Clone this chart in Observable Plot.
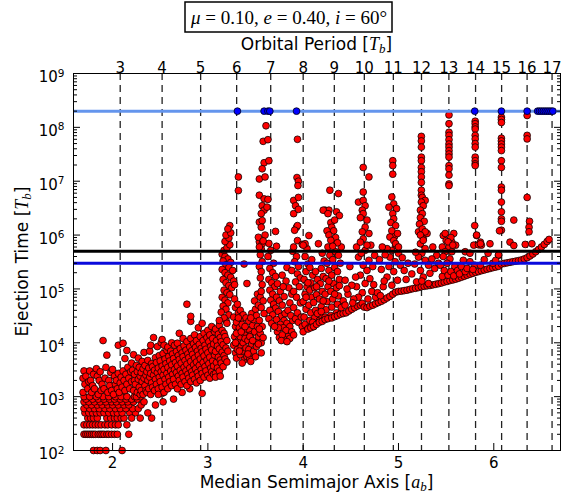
<!DOCTYPE html>
<html>
<head>
<meta charset="utf-8">
<script src="https://cdn.jsdelivr.net/npm/d3@7"></script>
<script src="https://cdn.jsdelivr.net/npm/@observablehq/plot@0.6"></script>
<style>
  html, body { margin: 0; padding: 0; background: #fff; }
  #chart svg { display: block; }
</style>
</head>
<body>
<div id="chart"></div>
<script>
// ---------- axis ticks and reference levels ----------
const periodTicks = [3,4,5,6,7,8,9,10,11,12,13,14,15,16,17];
const axisTicks = [2,3,4,5,6];
const decadeTicks = [1e2,1e3,1e4,1e5,1e6,1e7,1e8,1e9];
const survivalTime = 2e8;
const blackLevel = 5e5;
const blueLevel = 3e5;

// ---------- surviving planets (plotted at the survival time) ----------
const survivorA = [3.31,3.59,3.63,3.65,3.93,5.80,6.08,6.35,6.46,6.48,6.50,6.52,6.54,6.56,6.58,6.60,6.62];

// ---------- ejected planets: [median semimajor axis, ejection time] ----------
const lowRows = [
[1.80,100],[1.84,100],[1.87,100],[1.93,100],[2.10,100],
[1.70,200],[1.72,200],[1.74,200],[1.76,200],[1.78,200],[1.80,200],[1.82,200],[1.85,200],[1.87,200],[1.89,200],[1.91,200],[1.94,200],[1.96,200],[1.99,200],[2.02,200],[2.05,200],[2.17,200],
[1.70,300],[1.73,300],[1.76,300],[1.79,300],[1.82,300],[1.85,300],[1.88,300],[1.92,300],[1.95,300],[1.99,300],[2.03,300],[2.06,300],[2.15,300],
[1.74,400],[1.77,400],[1.80,400],[1.84,400],[1.94,400],[1.98,400],[2.02,400],[2.05,400],[2.09,400],[2.12,400],
[1.71,500],[1.75,500],[1.79,500],[1.83,500],[1.87,500],[1.91,500],[1.96,500],[2.01,500],[2.05,500],[2.10,500],[2.18,500],[2.24,500],
[1.70,600],[1.76,600],[1.81,600],[1.86,600],[1.92,600],[1.97,600],[2.03,600],[2.08,600],[2.14,600],[2.21,600],[2.27,600],
[1.73,700],[1.78,700],[1.84,700],[1.89,700],[1.95,700],[2.00,700],[2.06,700],[2.12,700],[2.17,700],[2.30,700],
[1.70,800],[1.75,800],[1.81,800],[1.87,800],[1.93,800],[1.99,800],[2.04,800],[2.10,800],[2.16,800],[2.22,800],[2.33,800],
[1.72,900],[1.79,900],[1.85,900],[1.91,900],[1.97,900],[2.02,900],[2.08,900],[2.14,900],[2.20,900],[2.26,900],
[1.70,1000],[1.76,1000],[1.83,1000],[1.90,1000],[1.96,1000],[2.03,1000],[2.09,1000],[2.15,1000],[2.23,1000],[2.29,1000]
];

const innerCloud = [
[1.69,1200],[1.69,2200],[1.70,3000],[1.71,1700],[1.72,2400],[1.74,1400],[1.75,1900],[1.76,3000],[1.77,2000],[1.78,1200],[1.79,1600],[1.80,2600],[1.81,1400],[1.83,3300],[1.84,2400],[1.85,1100],[1.86,2000],[1.87,2900],[1.88,1300],[1.89,1700],[1.90,11000],[1.91,1400],[1.92,2200],[1.93,3500],[1.94,5900],[1.95,1200],[1.96,2000],[1.97,1600],[1.98,2800],[1.99,1300],[2.00,3200],[2.01,1100],[2.02,2400],[2.03,1700],[2.04,2000],[2.05,1400],[2.06,9000],[2.06,2700],[2.07,1200],[2.08,1800],[2.09,2300],[2.10,1500],[2.11,9800],[2.11,3000],[2.12,2000],[2.13,5100],[2.13,1300],[2.14,2600],[2.15,7200],[2.15,1700],[2.16,3500],[2.17,2200],[2.18,1400],[2.19,2900],[2.20,1900],[2.20,4200],
[2.20,400],[2.29,400],[2.41,400],[2.37,500],[2.45,700],[2.53,800],[2.64,900],[2.52,1150],[2.81,1400],[2.94,1150],[2.73,1200],
[2.22,1300],[2.23,2000],[2.21,3100],[2.22,6000],
[2.25,1000],[2.24,1700],[2.23,2600],[2.25,3800],
[2.26,1200],[2.27,2100],[2.26,2900],[2.27,5200],
[2.28,1500],[2.29,2400],[2.28,3500],[2.29,1100],
[2.30,1300],[2.31,1900],[2.30,2800],[2.31,4500],
[2.32,1100],[2.33,2200],[2.32,3300],[2.33,6600],
[2.34,1600],[2.35,2500],[2.34,3800],[2.35,1300],
[2.36,1200],[2.37,2000],[2.36,2900],[2.37,4700],
[2.38,1400],[2.39,2300],[2.38,3400],[2.39,7000],
[2.40,1100],[2.41,1800],[2.40,2700],[2.41,4100],[2.40,9000],
[2.42,1500],[2.43,2500],[2.42,3600],[2.43,12500],
[2.44,1300],[2.45,2100],[2.44,3100],[2.45,5300],
[2.46,1700],[2.47,2800],[2.46,4300],[2.47,8500],
[2.48,1400],[2.49,2300],[2.48,3400],[2.49,5800],[2.48,1100],
[2.50,1900],[2.51,2900],[2.50,4600],[2.51,10000],
[2.52,1500],[2.53,2500],[2.52,3700],[2.53,6300],[2.52,11500],
[2.54,1200],[2.55,2100],[2.54,3200],[2.55,5000],[2.54,9000],
[2.56,1700],[2.57,2700],[2.56,4100],[2.57,7200],
[2.58,1400],[2.59,2300],[2.58,3500],[2.59,5600],[2.58,8300],
[2.60,1900],[2.61,3000],[2.60,4600],[2.61,7000],
[2.62,1600],[2.63,2600],[2.62,3900],[2.63,6200],[2.62,10000],
[2.64,2100],[2.65,3200],[2.64,5100],[2.65,9000],
[2.66,1700],[2.67,2800],[2.66,4300],[2.67,6900],
[2.68,1400],[2.69,2400],[2.68,3700],[2.69,5800],[2.68,9800],
[2.70,2000],[2.71,3100],[2.70,4900],[2.71,7800],[2.70,15000],
[2.72,1700],[2.73,2700],[2.72,4200],[2.73,6500],
[2.74,2300],[2.75,3500],[2.74,5500],[2.75,8800],[2.74,12000],
[2.76,1900],[2.77,3000],[2.76,4700],[2.77,7300],
[2.78,1600],[2.79,2600],[2.78,4000],[2.79,6200],[2.78,10500],[2.78,52000],
[2.80,2200],[2.81,3400],[2.80,5300],[2.81,8400],[2.82,25000],
[2.82,1900],[2.83,2900],[2.82,4500],[2.83,7100],[2.82,12000],[2.82,31000],
[2.84,2500],[2.85,3900],[2.84,6100],[2.85,9600],
[2.86,2100],[2.87,3300],[2.86,5200],[2.87,8200],[2.86,14000],
[2.88,1800],[2.89,2800],[2.88,4400],[2.89,7000],[2.88,11000],
[2.90,2400],[2.91,3800],[2.90,5900],[2.91,9400],[2.90,19000],
[2.92,2000],[2.93,3200],[2.92,5000],[2.93,7900],[2.92,13000],
[2.94,2700],[2.95,4300],[2.94,6800],[2.95,11000],[2.94,23000],
[2.96,2300],[2.97,3600],[2.96,5700],[2.97,9000],[2.96,15000],
[2.98,3000],[2.99,4800],[2.98,7600],[2.99,12500],
[3.00,2500],[3.01,4100],[3.00,6500],[3.01,10500],[3.00,17000],
[3.02,2200],[3.03,3400],[3.02,5400],[3.03,8600],[3.02,14000],
[3.04,2900],[3.05,4600],[3.04,7400],[3.05,12000],[3.04,20000],
[3.06,3700],[3.07,5900],[3.06,9500],[3.07,16000],[3.06,2600],
[3.08,2700],[3.09,4300],[3.08,6900],[3.09,11000],[3.08,18000],[3.08,2300],
[3.10,3400],[3.11,5400],[3.10,8700],[3.11,14500],
[3.12,3000],[3.13,4800],[3.12,7700],[3.13,12500],[3.12,21000],[3.13,2400],
[3.14,4200],[3.15,6700],[3.14,10500],[3.15,17000],
[3.16,3600],[3.17,5800],[3.16,9200],[3.17,15000],
[3.18,5000],[3.19,8000],[3.18,13000],[3.19,26000],
[3.20,4400],[3.21,7000],[3.20,11000]
];

const midCloud = [
[3.15,4.4e5],[3.18,4.0e5],[3.21,3.6e5],[3.16,3.3e5],[3.24,3.1e5],[3.19,2.8e5],[3.22,2.5e5],[3.15,2.3e5],[3.26,2.2e5],[3.18,2.0e5],[3.21,1.8e5],[3.24,1.65e5],[3.16,1.5e5],[3.27,1.4e5],[3.19,1.3e5],[3.22,1.15e5],[3.25,1.05e5],[3.17,9.5e4],[3.20,8.5e4],[3.28,1.2e5],[3.23,7.8e4],[3.15,7.0e4],[3.18,6.2e4],[3.21,5.5e4],[3.16,4.8e4],[3.19,4.2e4],[3.14,3.7e4],[3.22,3.3e4],[3.17,2.9e4],[3.12,2.6e4],[3.20,2.3e4],[3.17,5.2e5],[3.20,5.8e5],[3.23,6.6e5],[3.18,7.6e5],[3.22,8.8e5],[3.19,1.0e6],[3.24,1.1e6],[3.23,1.5e6],[3.21,1.3e6],
[3.28,6.5e4],[3.29,4.5e4],[3.27,3.0e4],[3.29,2.0e4],[3.28,1.3e4],[3.27,9.0e3],[3.29,6.5e3],
[3.31,5.2e4],[3.32,3.6e4],[3.30,2.4e4],[3.31,1.6e4],[3.32,1.1e4],[3.31,7.5e3],[3.30,5.2e3],
[3.34,4.0e4],[3.35,2.8e4],[3.33,1.9e4],[3.34,1.3e4],[3.35,8.5e3],[3.34,6.0e3],
[3.37,3.3e4],[3.36,2.2e4],[3.38,1.5e4],[3.37,1.0e4],[3.36,7.0e3],[3.38,4.8e3],
[3.41,1.26e5],[3.38,2.9e5],[3.40,2.9e4],[3.41,1.8e4],[3.39,1.2e4],[3.40,8.0e3],[3.41,5.5e3],
[3.43,2.5e4],[3.44,1.7e4],[3.42,1.1e4],[3.43,7.5e3],[3.44,5.0e3],
[3.46,3.5e4],[3.47,2.1e4],[3.45,1.4e4],[3.46,9.5e3],[3.47,6.5e3],[3.45,4.5e3],
[3.49,6.0e4],[3.50,4.2e4],[3.48,2.7e4],[3.49,1.6e4],[3.50,1.05e4],[3.48,7.0e3],
[3.52,8.0e4],[3.53,5.0e4],[3.51,3.2e4],[3.52,2.0e4],[3.53,1.3e4],[3.51,8.5e3],
[3.55,7.0e4],[3.56,4.5e4],[3.54,2.6e4],[3.55,1.5e4],[3.56,1.0e4],
[3.58,6.0e4],[3.59,3.5e4],[3.57,2.0e4],[3.58,1.25e4],
[3.29,1.0e4],[3.30,1.5e4],[3.33,7.0e3],[3.35,1.6e4],[3.36,4.2e3],[3.39,2.0e4],[3.42,6.2e3],[3.44,1.3e4],[3.47,1.1e4],[3.50,5.5e3],[3.53,9.5e3],[3.56,6.5e3],[3.54,1.8e4],[3.32,2.9e4],[3.45,2.9e4],
[3.54,7.5e5],[3.56,5.5e5],[3.55,4.3e5],[3.57,3.2e5],[3.54,2.6e5],[3.56,2.1e5],[3.55,1.6e5],[3.57,1.2e5],[3.56,9.0e4],
[3.64,7.0e5],[3.66,5.2e5],[3.63,4.0e5],[3.69,3.0e5],[3.65,2.4e5],[3.68,2.0e5],[3.71,1.7e5],[3.64,1.5e5],[3.67,1.3e5],[3.70,1.1e5],[3.73,1.25e5],[3.65,9.5e4],[3.68,8.0e4],[3.72,7.0e4],[3.66,6.2e4],[3.69,5.2e4],[3.75,6.0e4],[3.71,4.4e4],[3.65,4.0e4],[3.68,3.3e4],[3.74,3.8e4],[3.64,2.8e4],[3.67,2.3e4],
[3.77,3.1e4],[3.72,2.7e4],[3.80,2.6e4],[3.76,2.2e4],[3.83,2.3e4],[3.79,1.9e4],[3.86,2.0e4],[3.73,1.6e4],[3.82,1.7e4],[3.75,1.25e4],[3.88,1.6e4],[3.84,1.3e4],[3.80,1.15e4],[3.78,1.4e4],[3.86,1.2e4],[3.90,1.4e4],[3.81,3.5e4],[3.89,2.6e4],[3.74,1.9e4],[3.77,1.1e4],[3.83,1.05e4],[3.70,2.0e4],
[3.78,1.8e5],[3.82,1.4e5],[3.76,9.0e4],[3.85,1.05e5],[3.80,7.2e4],[3.88,8.0e4],[3.78,5.0e4],[3.86,5.5e4],[3.84,4.0e4],[3.90,4.5e4],[3.87,3.2e4],[3.92,2.8e4],[3.95,2.4e4],[3.83,2.5e5],[3.79,1.1e5],
[3.89,5.0e5],[3.93,4.0e5],[3.91,3.2e5],[3.95,2.6e5],[3.88,2.2e5],[3.94,1.9e5],[3.97,1.6e5],[3.92,1.35e5],[3.96,1.1e5],[3.90,9.0e4],[3.93,7.0e4],[3.97,5.5e4],[3.94,3.6e4],[3.98,3.0e4],[3.99,2.0e4]
];

const nearCloud = [
[4.00,1.6e4],[4.02,2.2e4],[4.01,3.0e4],[4.03,4.2e4],[4.00,5.8e4],[4.02,8.0e4],[4.04,1.1e5],[4.01,1.5e5],[4.03,2.1e5],[4.05,2.9e5],[4.02,4.0e5],[4.04,5.6e5],
[4.06,1.9e4],[4.07,2.6e4],[4.08,3.6e4],[4.06,5.0e4],[4.09,7.0e4],[4.07,9.5e4],[4.08,1.3e5],[4.10,1.8e5],[4.07,2.5e5],[4.09,3.5e5],
[4.11,2.0e4],[4.12,2.9e4],[4.13,4.0e4],[4.11,5.6e4],[4.14,7.8e4],[4.12,1.05e5],[4.15,1.5e5],[4.13,2.1e5],[4.16,6.9e5],
[4.17,2.6e4],[4.18,3.3e4],[4.19,4.7e4],[4.17,6.5e4],[4.20,9.0e4],[4.18,1.25e5],[4.21,1.7e5],[4.19,2.4e5],[4.22,3.3e5],[4.20,4.6e5],
[4.23,3.0e4],[4.24,4.1e4],[4.25,5.8e4],[4.23,8.0e4],[4.26,1.1e5],[4.24,1.55e5],[4.27,2.2e5],[4.25,3.0e5],[4.28,4.2e5],[4.26,6.0e5],
[4.29,3.2e4],[4.30,4.6e4],[4.31,6.5e4],[4.29,9.0e4],[4.32,1.25e5],[4.30,1.8e5],[4.33,2.5e5],[4.31,3.5e5],[4.34,4.9e5],[4.32,7.0e5],
[4.35,3.6e4],[4.36,5.2e4],[4.37,7.4e4],[4.35,1.05e5],[4.38,1.5e5],[4.36,2.1e5],[4.39,3.0e5],[4.37,4.2e5],[4.40,6.0e5],
[4.05,1.3e5],[4.10,2.4e4],[4.15,3.5e4],[4.21,6.0e4],[4.27,1.4e5],[4.33,8.0e4],[4.38,1.15e5],[4.14,1.1e5],[4.19,3.8e4],[4.03,7.0e4]
];

const envelope = [
[4.05,1.8e4],[4.08,1.9e4],[4.11,2.0e4],[4.14,2.2e4],[4.17,2.4e4],[4.20,2.5e4],[4.23,2.7e4],[4.26,2.8e4],
[4.30,2.9e4],[4.33,3.05e4],[4.36,3.2e4],[4.39,3.4e4],[4.42,3.5e4],[4.45,3.6e4],[4.48,3.9e4],[4.51,4.2e4],[4.54,4.5e4],[4.57,4.8e4],[4.60,5.0e4],[4.62,5.4e4],
[4.64,4.6e4],[4.67,4.5e4],[4.70,4.8e4],[4.73,5.0e4],[4.76,5.3e4],[4.79,5.6e4],[4.82,5.9e4],[4.85,6.3e4],[4.88,6.8e4],[4.91,7.3e4],[4.94,8.0e4],
[4.97,8.7e4],[5.00,9.0e4],[5.03,9.1e4],[5.06,9.3e4],[5.09,9.5e4],[5.12,9.8e4],[5.15,1.01e5],[5.18,1.03e5],[5.21,1.06e5],[5.24,1.1e5],
[5.27,1.12e5],[5.30,1.14e5],[5.33,1.16e5],[5.36,1.19e5],[5.39,1.22e5],[5.42,1.25e5],[5.45,1.29e5],[5.48,1.34e5],[5.51,1.38e5],
[5.54,1.43e5],[5.57,1.47e5],[5.60,1.52e5],[5.63,1.58e5],[5.66,1.65e5],[5.69,1.72e5],[5.72,1.8e5],[5.75,1.88e5],[5.78,1.95e5],
[5.81,2.03e5],[5.84,2.1e5],[5.87,2.18e5],[5.90,2.25e5],[5.93,2.33e5],[5.96,2.4e5],[5.99,2.48e5],[6.02,2.55e5],[6.05,2.63e5],
[6.08,2.9e5],[6.11,2.98e5],[6.14,3.05e5],[6.17,3.12e5],[6.20,3.2e5],[6.23,3.28e5],[6.26,3.35e5],[6.29,3.45e5],[6.32,3.6e5],
[6.35,3.8e5],[6.38,4.1e5],[6.41,4.45e5],[6.44,4.9e5],[6.47,5.4e5],[6.50,6.0e5],[6.53,6.7e5],[6.56,7.6e5],[6.58,8.3e5]
];

const outerCloud = [
[4.56,6.0e5],[4.65,5.2e5],[4.58,3.9e5],[4.69,3.4e5],[4.63,2.75e5],[4.67,2.2e5],[4.60,1.8e5],[4.70,1.55e5],[4.65,1.26e5],[4.56,1.1e5],[4.49,2.6e5],[4.44,1.45e5],[4.51,1.17e5],[4.55,1.66e5],[4.72,9.0e4],[4.74,1.2e5],[4.76,7.0e4],[4.62,8.5e4],[4.68,6.5e4],[4.58,7.0e4],[4.53,6.5e4],[4.47,8.0e4],[4.42,6.0e4],[4.46,1.0e5],[4.73,2.6e5],[4.75,4.2e5],[4.71,6.5e5],[4.61,4.6e5],[4.40,4.5e4],[4.44,5.0e4],[4.52,5.5e4],
[4.93,5.2e5],[4.88,5.6e5],[5.00,4.6e5],[4.91,3.9e5],[4.965,3.2e5],[5.02,2.75e5],[4.90,2.6e5],[4.95,2.1e5],[4.88,1.66e5],[4.99,1.45e5],[4.93,1.17e5],[4.84,1.1e5],[4.80,3.5e5],[4.83,6.0e5],[4.86,4.3e5],[4.97,6.5e5],[5.04,3.8e5],[5.06,2.2e5],[5.08,1.5e5],[5.10,3.0e5],[4.82,2.3e5],[4.85,1.4e5],[4.96,9.5e5],[4.78,8.5e4],[4.81,7.5e4],
[5.21,1.15e6],[5.30,1.07e6],[5.26,8.5e5],[5.23,6.9e5],[5.28,5.6e5],[5.245,4.6e5],[5.21,3.9e5],[5.28,3.4e5],[5.315,2.75e5],[5.23,2.2e5],[5.33,1.95e5],[5.26,1.66e5],[5.19,1.35e5],[5.315,1.26e5],[5.245,1.4e5],[5.36,6.0e5],[5.40,4.2e5],[5.38,2.4e5],[5.42,3.0e5],[5.35,3.6e5],[5.17,2.9e5],[5.14,1.9e5],[5.18,4.8e5],
[5.47,9.8e5],[5.50,7.9e5],[5.58,1.07e6],[5.56,7.4e5],[5.46,6.0e5],[5.53,6.0e5],[5.49,4.9e5],[5.56,4.9e5],[5.60,6.5e5],[5.70,4.9e5],[5.75,4.6e5],[5.79,6.5e5],[5.84,6.6e5],[5.86,7.4e5],[5.47,4.0e5],[5.54,3.6e5],[5.51,3.0e5],[5.44,2.75e5],[5.59,2.6e5],[5.68,3.4e5],[5.75,3.2e5],[5.80,2.75e5],[5.86,2.75e5],
[5.46,1.7e5],[5.48,2.2e5],[5.52,1.8e5],[5.55,2.1e5],[5.58,1.75e5],[5.62,2.2e5],[5.64,1.9e5],[5.66,2.6e5],[5.70,2.1e5],[5.72,2.4e5],[5.78,2.3e5],
[5.82,9.8e5],[5.87,6.5e5],[5.96,6.9e5],[6.05,4.2e5],[5.90,3.5e5],[5.94,4.6e5],[5.99,3.0e5],[6.02,3.4e5]
];

const resonanceTops = [
[3.32,1.2e7],[3.32,6.7e6],
[3.61,1.07e8],[3.58,5.5e7],[3.63,5.9e7],[3.59,2.2e7],[3.64,2.4e7],[3.57,1.7e7],[3.54,1.1e7],[3.60,1.2e7],[3.54,5.5e6],[3.59,4.7e6],[3.63,4.6e6],[3.57,3.5e6],[3.59,2.9e6],[3.56,2.5e6],[3.54,1.74e6],[3.57,1.86e6],[3.56,1.4e6],[3.60,1.0e6],[3.53,9.1e5],[3.57,6.9e5],[3.54,6.0e5],[3.71,1.17e6],[3.72,6.2e5],[3.62,3.3e6],[3.58,7.8e5],
[3.94,6.0e7],[3.935,1.17e7],[3.95,1.0e7],[3.945,8.3e6],[3.90,4.4e6],[3.95,5.0e6],[3.92,3.5e6],[3.90,2.5e6],[3.95,3.0e6],[3.93,1.4e6],[3.94,1.5e6],[3.91,1.23e6],[3.94,7.9e5],[3.99,6.7e5],[3.90,6.0e5],[4.06,9.8e5],[4.02,6.9e5],[4.00,6.5e5],
[4.28,6.8e6],[4.37,5.9e6],[4.23,2.9e6],[4.27,2.9e6],[4.35,2.7e6],[4.38,2.3e6],[4.29,1.7e6],[4.30,1.4e6],[4.25,1.2e6],[4.32,1.2e6],[4.27,1.0e6],[4.34,9.0e5],[4.29,8.0e5],[4.36,7.2e5],[4.31,6.2e5],[4.21,2.9e6],[4.26,2.5e6],[4.33,1.9e6],
[4.63,1.8e7],[4.69,1.2e7],[4.63,6.3e6],[4.58,4.1e6],[4.63,4.4e6],[4.65,3.5e6],[4.62,2.9e6],[4.63,2.5e6],[4.60,2.1e6],[4.67,1.9e6],[4.65,1.4e6],[4.62,1.15e6],[4.69,1.07e6],[4.63,8.5e5],[4.60,7.4e5],[4.67,6.5e5],
[4.94,2.4e7],[4.94,1.95e7],[4.94,1.35e7],[4.93,5.1e6],[4.95,3.8e6],[4.90,3.3e6],[4.98,3.1e6],[4.94,2.5e6],[4.95,2.0e6],[4.92,1.7e6],[4.97,1.5e6],[4.93,1.2e6],[4.99,1.07e6],[4.91,9.2e5],[4.95,7.9e5],[4.97,6.9e5],[5.00,6.0e5],
[5.24,6.8e7],[5.24,5.6e7],[5.24,4.3e7],[5.24,2.8e7],[5.24,2.4e7],[5.24,1.8e7],[5.24,1.5e7],[5.24,1.2e7],[5.24,9.5e6],[5.24,6.8e6],[5.24,5.5e6],[5.25,5.0e6],[5.28,4.4e6],[5.24,4.1e6],[5.26,3.5e6],[5.23,2.9e6],[5.25,2.5e6],[5.23,2.1e6],[5.27,1.8e6],[5.22,1.6e6],[5.25,1.3e6],[5.28,1.15e6],[5.23,1.0e6],[5.26,8.0e5],
[5.53,1.7e8],[5.53,1.17e8],[5.53,8.1e7],[5.53,7.1e7],[5.53,5.9e7],[5.53,4.9e7],[5.53,4.3e7],[5.53,3.7e7],[5.53,3.2e7],[5.53,2.8e7],[5.53,1.95e7],[5.53,1.7e7],[5.53,1.3e7],[5.53,8.9e6],[5.53,8.3e6],[5.49,1.07e6],[5.55,9.0e5],[5.52,7.5e5],[5.57,6.5e5],
[5.805,1.3e8],[5.805,1.17e8],[5.805,1.02e8],[5.805,9.3e7],[5.805,7.1e7],[5.805,6.1e7],[5.805,5.0e7],[5.805,4.3e7],[5.805,2.8e7],[5.805,2.4e7],[5.805,2.1e7],[5.805,1.95e7],[5.80,1.5e6],[5.82,1.0e6],[5.86,6.9e5],
[6.08,1.55e8],[6.08,1.4e8],[6.08,1.23e8],[6.08,6.3e7],[6.08,5.6e7],[6.08,4.9e7],[6.08,4.3e7],[6.08,3.7e7],[6.08,2.4e7],[6.08,1.8e7],[6.08,7.8e6],[6.08,6.8e6],[6.08,4.1e6],[6.08,2.7e6],[6.08,2.0e6],[6.08,1.8e6],[6.08,1.23e6],[6.06,1.2e6],[6.21,1.9e6],[6.05,4.3e5],
[6.35,1.66e8],[6.35,7.1e7],[6.35,6.1e7],[6.35,5.0e6],[6.375,1.8e6],[6.37,1.4e6],[6.37,1.15e6],[6.33,6.7e5],[6.17,7.4e5],[6.21,6.4e5],[6.40,6.9e5]
];

// ---------- build ----------
const ejected = [].concat(lowRows, innerCloud, midCloud, nearCloud, envelope, outerCloud, resonanceTops);
const periodToA = p => Math.pow(p, 2 / 3);   // Kepler: a = P^(2/3) in binary units
const minorTicks = [];
for (const d of decadeTicks.slice(0, -1)) for (let k = 2; k < 10; k++) minorTicks.push(k * d);

const sans = "'DejaVu Sans', sans-serif";
const serif = "'Liberation Serif', 'DejaVu Serif', serif";

const chart = Plot.plot({
  width: 568,
  height: 493,
  marginLeft: 73,
  marginRight: 8,
  marginTop: 73,
  marginBottom: 43,
  style: {fontFamily: sans, fontSize: "15px", background: "white", color: "black", overflow: "visible"},
  x: {type: "linear", domain: [1.59, 6.70]},
  y: {type: "log", domain: [1e2, 1e9]},
  marks: [
    Plot.ruleX(periodTicks, {x: periodToA, stroke: "#222", strokeWidth: 1.3, strokeDasharray: "7,5"}),
    Plot.dot(ejected, {x: d => d[0], y: d => d[1], r: 3.4, fill: "#ff0000", stroke: "black", strokeWidth: 0.75}),
    Plot.ruleY([survivalTime], {stroke: "#6495ed", strokeWidth: 3}),
    Plot.ruleY([blackLevel], {stroke: "black", strokeWidth: 3}),
    Plot.ruleY([blueLevel], {stroke: "#0a0adc", strokeWidth: 3}),
    Plot.dot(survivorA, {x: d => d, y: () => survivalTime, r: 3.4, fill: "#0000ff", stroke: "black", strokeWidth: 0.75}),
    Plot.frame({stroke: "black", strokeWidth: 1}),
    // inward ticks
    Plot.axisY(decadeTicks, {anchor: "left", tickSize: -7, fill: "none", label: null}),
    Plot.axisY(decadeTicks, {anchor: "right", tickSize: -7, fill: "none", label: null}),
    Plot.axisY(minorTicks, {anchor: "left", tickSize: -4, fill: "none", label: null}),
    Plot.axisY(minorTicks, {anchor: "right", tickSize: -4, fill: "none", label: null}),
    Plot.axisX(axisTicks, {anchor: "bottom", tickSize: -7, fill: "none", label: null}),
    // tick labels
    Plot.axisY(decadeTicks, {anchor: "left", tickSize: 0, tickPadding: 9, dy: 4, label: null,
      tickFormat: d => String(Math.round(Math.log10(d)))}),
    Plot.axisX(axisTicks, {anchor: "bottom", tickSize: 0, tickPadding: 7, label: null, fontSize: 15, tickFormat: d => String(d)}),
    Plot.text(periodTicks, {x: periodToA, text: d => String(d), frameAnchor: "top", dy: -11, fontSize: 15})
  ]
});

document.getElementById("chart").appendChild(chart);

// superscript exponents on the log axis labels
d3.select(chart).selectAll('g[aria-label="y-axis tick label"] text').each(function () {
  const e = this.textContent;
  const t = d3.select(this);
  t.text("10");
  t.append("tspan").attr("dy", "-0.55em").attr("font-size", "10.5px").text(e);
});

const svg = d3.select(chart);
const g = svg.append("g").attr("fill", "black").attr("font-family", sans);

// title box
g.append("rect").attr("x", 185).attr("y", 2).attr("width", 207).attr("height", 30)
  .attr("fill", "white").attr("stroke", "black").attr("stroke-width", 1.5);
const tt = g.append("text").attr("x", 289).attr("y", 24).attr("text-anchor", "middle")
  .attr("font-family", serif).attr("font-size", 19);
tt.append("tspan").attr("font-style", "italic").text("μ");
tt.append("tspan").text(" = 0.10, ");
tt.append("tspan").attr("font-style", "italic").text("e");
tt.append("tspan").text(" = 0.40, ");
tt.append("tspan").attr("font-style", "italic").text("i");
tt.append("tspan").text(" = 60°");

function mathLabel(sel, before, sym, sub) {
  sel.append("tspan").text(before + "[");
  sel.append("tspan").attr("font-family", serif).attr("font-style", "italic").attr("font-size", 18).text(sym);
  sel.append("tspan").attr("font-family", serif).attr("font-style", "italic").attr("font-size", 13).attr("dy", 3).text(sub);
  sel.append("tspan").attr("dy", -3).text("]");
}

mathLabel(g.append("text").attr("x", 316.5).attr("y", 50).attr("text-anchor", "middle").attr("font-size", 17),
  "Orbital Period ", "T", "b");
mathLabel(g.append("text").attr("x", 316.5).attr("y", 488).attr("text-anchor", "middle").attr("font-size", 17),
  "Median Semimajor Axis ", "a", "b");
mathLabel(g.append("text").attr("transform", "translate(28,261.5) rotate(-90)").attr("text-anchor", "middle").attr("font-size", 17),
  "Ejection Time ", "T", "b");
</script>
</body>
</html>
